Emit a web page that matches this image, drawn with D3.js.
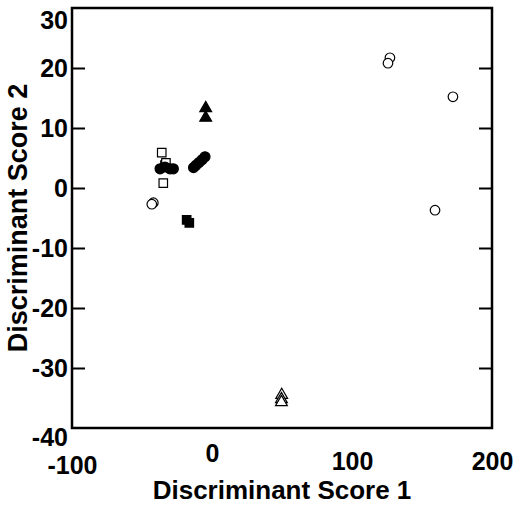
<!DOCTYPE html>
<html>
<head>
<meta charset="utf-8">
<script src="https://cdn.jsdelivr.net/npm/d3@7"></script>
<style>
  body { margin: 0; background: #fff; }
  text { font-family: "Liberation Sans", Arial, Helvetica, sans-serif; font-weight: bold; fill: #000; }
</style>
</head>
<body>
<div id="scatter"></div>
<script>
// Chart values
var openCircleX = [127.1, 125.7, 172.1, 159.3, -41.9, -43.0];
var openCircleY = [21.7, 20.8, 15.2, -3.7, -2.45, -2.7];

var filledCircleX = [-37.1, -33.6, -30.0, -27.6, -13.2, -11.4, -9.3, -7.1, -5.0];
var filledCircleY = [3.2, 3.5, 3.2, 3.2, 3.4, 3.8, 4.25, 4.7, 5.2];

var openSquareX = [-35.9, -33.6, -32.9, -34.8];
var openSquareY = [5.9, 3.8, 4.2, 0.8];

var filledSquareX = [-18.1, -16.2];
var filledSquareY = [-5.3, -5.8];

var filledTriangleX = [-4.5, -4.5];
var filledTriangleY = [13.3, 11.7];

var openTriangleX = [49.8, 49.6, 49.6];
var openTriangleY = [-34.5, -35.2, -35.7];

var xTicks = [-100, 0, 100, 200];
var yTicks = [30, 20, 10, 0, -10, -20, -30, -40];
var yInnerTicks = [20, 10, 0, -10, -20, -30];

// Set up the chart
var svgWidth = 514;
var svgHeight = 505;

var margin = { top: 8, right: 22, bottom: 77, left: 72 };
var width = svgWidth - margin.left - margin.right;
var height = svgHeight - margin.top - margin.bottom;

var svg = d3.select("#scatter")
  .append("svg")
  .attr("width", svgWidth)
  .attr("height", svgHeight);

var chartGroup = svg.append("g")
  .attr("transform", `translate(${margin.left}, ${margin.top})`);

// Scales
var xLinearScale = d3.scaleLinear().domain([-100, 200]).range([0, width]);
var yLinearScale = d3.scaleLinear().domain([-40, 30]).range([height, 0]);

// plain hyphen for negatives, like the figure
var fmt = d => String(d);

// Inner tick marks, left and right
chartGroup.append("g")
  .call(d3.axisLeft(yLinearScale).tickValues(yInnerTicks).tickSize(-13).tickFormat(""))
  .call(g => g.select(".domain").remove())
  .selectAll("line").attr("stroke", "#000").attr("stroke-width", 2);

chartGroup.append("g")
  .attr("transform", `translate(${width}, 0)`)
  .call(d3.axisRight(yLinearScale).tickValues(yInnerTicks).tickSize(-13).tickFormat(""))
  .call(g => g.select(".domain").remove())
  .selectAll("line").attr("stroke", "#000").attr("stroke-width", 2);

// Y tick labels
var yLab = chartGroup.append("g")
  .call(d3.axisLeft(yLinearScale).tickValues(yTicks).tickSize(0).tickPadding(4).tickFormat(fmt));
yLab.select(".domain").remove();
yLab.selectAll("text")
  .attr("font-size", 25)
  .attr("dy", d => d === 30 ? "0.8em" : (d === -40 ? "0.7em" : "0.35em"))
  .attr("fill", "#000");

// X tick labels (staggered as in the figure)
var xLab = chartGroup.append("g")
  .attr("transform", `translate(0, ${height})`)
  .call(d3.axisBottom(xLinearScale).tickValues(xTicks).tickSize(0).tickPadding(0).tickFormat(fmt));
xLab.select(".domain").remove();
xLab.selectAll("text")
  .attr("font-size", 25)
  .attr("dy", null)
  .attr("y", d => d === 0 ? 34 : (d === -100 ? 46 : 42))
  .attr("fill", "#000");

// Frame
chartGroup.append("rect")
  .attr("width", width)
  .attr("height", height)
  .attr("fill", "none")
  .attr("stroke", "#000")
  .attr("stroke-width", 2.5);

function pts(xs, ys) {
  return xs.map((x, i) => ({ x: x, y: ys[i] }));
}

// Markers
var markerGroup = chartGroup.append("g");

function addSymbols(xs, ys, type, size, filled) {
  markerGroup.append("g").selectAll("path")
    .data(pts(xs, ys))
    .enter()
    .append("path")
    .attr("transform", d => `translate(${xLinearScale(d.x)}, ${yLinearScale(d.y)})`)
    .attr("d", d3.symbol().type(type).size(size))
    .attr("fill", filled ? "#000" : "#fff")
    .attr("stroke", "#000")
    .attr("stroke-width", 1.2);
}

addSymbols(openSquareX, openSquareY, d3.symbolSquare, 72, false);
addSymbols(filledCircleX, filledCircleY, d3.symbolCircle, 78, true);
addSymbols(openCircleX, openCircleY, d3.symbolCircle, 72, false);
addSymbols(filledSquareX, filledSquareY, d3.symbolSquare, 72, true);
addSymbols(filledTriangleX, filledTriangleY, d3.symbolTriangle, 60, true);
addSymbols(openTriangleX, openTriangleY, d3.symbolTriangle, 60, false);

// Axis titles
chartGroup.append("text")
  .attr("x", width / 2)
  .attr("y", height + 71)
  .attr("text-anchor", "middle")
  .attr("font-size", 26)
  .text("Discriminant Score 1");

chartGroup.append("text")
  .attr("transform", "rotate(-90)")
  .attr("x", -height / 2)
  .attr("y", -margin.left + 27)
  .attr("text-anchor", "middle")
  .attr("font-size", 27)
  .text("Discriminant Score 2");
</script>
</body>
</html>
